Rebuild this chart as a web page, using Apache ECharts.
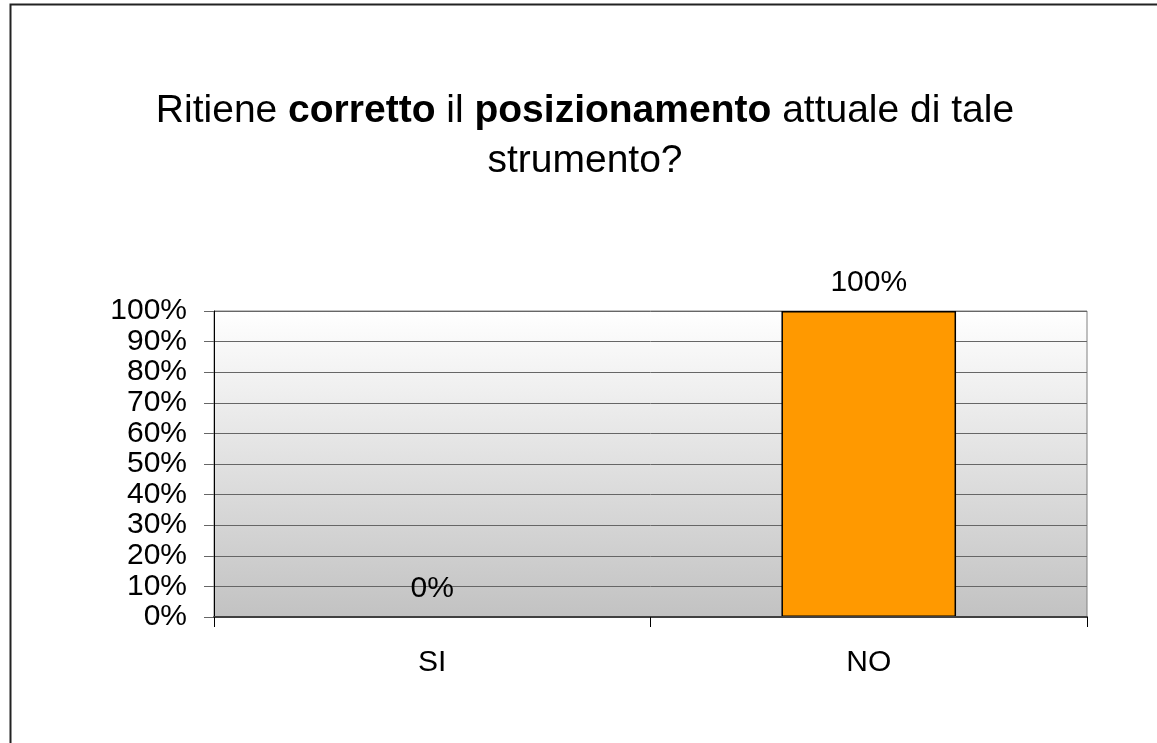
<!DOCTYPE html>
<html>
<head>
<meta charset="utf-8">
<script src="https://cdn.jsdelivr.net/npm/echarts@6/dist/echarts.min.js"></script>
<style>html,body{margin:0;padding:0;background:#fff;}#c{width:1157px;height:743px;}</style>
</head>
<body>
<div id="c"></div>
<script>
const categories = ['SI', 'NO'];
const values = [0, 1];
const valueLabels = ['0%', '100%'];
const yTicks = ['0%','10%','20%','30%','40%','50%','60%','70%','80%','90%','100%'];

const chart = echarts.init(document.getElementById('c'));
const font = 'Liberation Sans, Arial, sans-serif';
chart.setOption({
  animation: false,
  backgroundColor: '#ffffff',
  title: {
    text: 'Ritiene {b|corretto} il {b|posizionamento} attuale di tale\nstrumento?',
    left: 585,
    textAlign: 'center',
    top: 86,
    padding: 0,
    textStyle: {
      fontFamily: font, fontSize: 39, fontWeight: 'normal', color: '#000', lineHeight: 50,
      rich: { b: { fontFamily: font, fontSize: 39, fontWeight: 'bold', color: '#000', lineHeight: 50 } }
    }
  },
  graphic: [{
    type: 'rect', silent: true,
    shape: { x: 10.5, y: 4.5, width: 1200, height: 800 },
    style: { fill: 'none', stroke: '#222', lineWidth: 2 }
  }],
  grid: {
    left: 214, right: 70, top: 311, bottom: 126,
    show: true,
    backgroundColor: { type: 'linear', x: 0, y: 0, x2: 0, y2: 1,
      colorStops: [{ offset: 0, color: '#ffffff' }, { offset: 1, color: '#c2c2c2' }] },
    borderColor: '#808080', borderWidth: 1
  },
  xAxis: {
    type: 'category', data: categories, z: 5,
    axisLine: { lineStyle: { color: '#404040', width: 2 } },
    axisTick: { show: true, length: 10, lineStyle: { color: '#000' } },
    axisLabel: { fontFamily: font, fontSize: 30, color: '#000', margin: 31 }
  },
  yAxis: {
    type: 'value', min: 0, max: 1, interval: 0.1,
    axisLine: { show: true, lineStyle: { color: '#000', width: 1 } },
    axisTick: { show: true, length: 10, lineStyle: { color: '#666' } },
    axisLabel: { fontFamily: font, fontSize: 30, color: '#000', margin: 27,
      formatter: (v) => yTicks[Math.round(v * 10)] },
    splitLine: { lineStyle: { color: '#666', width: 1 } }
  },
  series: [{
    type: 'bar', data: values, barWidth: '40%',
    itemStyle: { color: '#ff9900', borderColor: '#000', borderWidth: 1.5 },
    label: { show: true, position: 'top', distance: 13, fontFamily: font, fontSize: 30, color: '#000',
      formatter: (p) => valueLabels[p.dataIndex] }
  }]
});
</script>
</body>
</html>
